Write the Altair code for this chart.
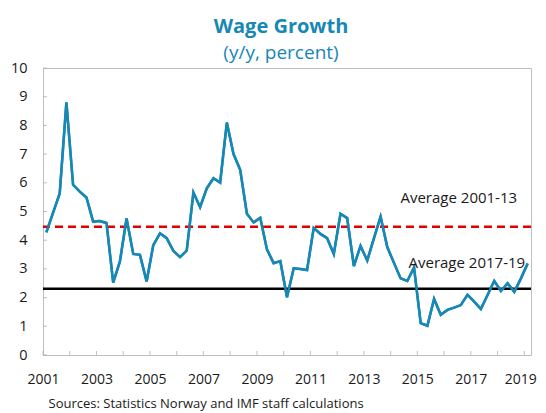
import altair as alt
import pandas as pd

# Quarterly wage growth, 2001Q1 - 2019Q1 (y/y, percent)
start_year = 2001
wage_growth = [
    4.27, 4.95, 5.63, 8.80, 5.93, 5.69, 5.49, 4.65,
    4.67, 4.60, 2.52, 3.25, 4.76, 3.52, 3.49, 2.56,
    3.83, 4.24, 4.07, 3.63, 3.41, 3.64, 5.66, 5.15,
    5.81, 6.16, 6.01, 8.10, 7.00, 6.45, 4.92, 4.62,
    4.78, 3.68, 3.20, 3.27, 2.01, 3.02, 3.00, 2.96,
    4.43, 4.22, 4.07, 3.52, 4.92, 4.77, 3.10, 3.80,
    3.29, 4.06, 4.82, 3.76, 3.21, 2.67, 2.58, 3.05,
    1.11, 1.02, 1.95, 1.40, 1.57, 1.65, 1.74, 2.10,
    1.86, 1.60, 2.09, 2.58, 2.23, 2.50, 2.20, 2.67,
    3.19,
]
avg_labels = ["Average 2001-13", "Average 2017-19"]
avg_values = [4.47, 2.31]
year_ticks = list(range(2001, 2020))
y_ticks = list(range(0, 11))

# centre of each quarter on a fractional-year axis
t = [start_year + i * 0.25 + 0.125 for i in range(len(wage_growth))]
df = pd.DataFrame({"t": t, "v": wage_growth})
avg_df = pd.DataFrame({"label": avg_labels, "v": avg_values})
ann_df = pd.DataFrame({
    "label": avg_labels,
    "t": [2018.73, 2019.03],
    "v": [5.47, 3.22],
})
xt_df = pd.DataFrame({"t": year_ticks})
yt_df = pd.DataFrame({"v": y_ticks})

FONT = "Open Sans"
GRAY = "#bfbfbf"
BLUE = "#1788b5"
W, H = 488, 287

xscale = alt.Scale(domain=[2001, 2019.25], nice=False, zero=False)
yscale = alt.Scale(domain=[0, 10], nice=False)

xaxis = alt.Axis(values=year_ticks,
                 labelExpr="datum.value % 2 == 1 ? format(datum.value, 'd') : ''",
                 labelOverlap=False, labelFlush=False, ticks=False, tickSize=0,
                 labelOffset={"condition": {"test": "datum.value == 2019", "value": -4},
                              "value": 0},
                 labelPadding=17, labelFontSize=14, labelColor="#1a1a1a",
                 labelFont=FONT, domainColor=GRAY, grid=False,
                 title="Sources: Statistics Norway and IMF staff calculations",
                 titleFont=FONT, titleFontSize=13, titleFontWeight="normal",
                 titleColor="#1a1a1a", titleAnchor="start", titleAlign="left",
                 titleX=5, titleY=48, titleBaseline="middle", orient="bottom")
yaxis = alt.Axis(values=y_ticks, tickCount=11, ticks=False, tickSize=0,
                 labelFlush=False, labelOverlap=False,
                 labelPadding=16, labelFontSize=14.5, labelColor="#1a1a1a",
                 labelFont=FONT, domainColor=GRAY, grid=False, title=None,
                 orient="left")

X = alt.X("t:Q", scale=xscale, axis=xaxis)
Y = alt.Y("v:Q", scale=yscale, axis=yaxis)

line = alt.Chart(df).mark_line(color=BLUE, strokeWidth=2.5).encode(x=X, y=Y)

# inward tick marks along the bottom and left edges
xticks = alt.Chart(xt_df).mark_tick(
    orient="vertical", color="#a6a6a6", size=4, thickness=1
).encode(x=X, y=alt.value(H - 2))

yticks = alt.Chart(yt_df).mark_tick(
    orient="horizontal", color="#a6a6a6", size=4, thickness=1
).encode(y=Y, x=alt.value(2))

avg_red = alt.Chart(avg_df.iloc[[0]]).mark_rule(
    color="#e00000", strokeWidth=2.5, strokeDash=[8, 5]
).encode(y=Y)

avg_black = alt.Chart(avg_df.iloc[[1]]).mark_rule(
    color="#000000", strokeWidth=2.5
).encode(y=Y)

ann = alt.Chart(ann_df).mark_text(
    align="right", baseline="middle", fontSize=15, font=FONT, color="#1a1a1a"
).encode(x=X, y=Y, text="label:N")

chart = alt.layer(line, xticks, yticks, avg_red, avg_black, line, ann).properties(
    width=W,
    height=H,
    autosize=alt.AutoSizeParams(type="none"),
    padding={"left": 35, "top": 60, "right": 7, "bottom": 57},
    title=alt.TitleParams(
        text="Wage Growth", subtitle="(y/y, percent)",
        font=FONT, fontSize=20, fontWeight="bold", color=BLUE,
        subtitleFont=FONT, subtitleFontSize=19, subtitleColor=BLUE,
        subtitlePadding=7, anchor="middle", offset=-3, dx=-6,
    ),
).configure_view(stroke=GRAY, strokeWidth=1)

chart.save("out.html", embed_options={"renderer": "svg", "actions": False})
